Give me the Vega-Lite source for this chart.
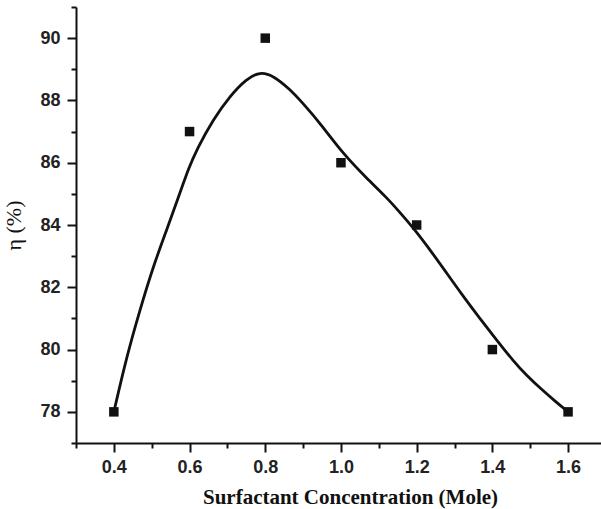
{
  "$schema": "https://vega.github.io/schema/vega-lite/v6.json",
  "autosize": "none",
  "width": 525,
  "height": 436,
  "padding": {"left": 76, "top": 7, "right": 0, "bottom": 66},
  "background": "white",
  "config": {"view": {"stroke": null}},
  "datasets": {
    "pts": [
      {"c": 0.4, "eta": 78},
      {"c": 0.6, "eta": 87},
      {"c": 0.8, "eta": 90},
      {"c": 1.0, "eta": 86},
      {"c": 1.2, "eta": 84},
      {"c": 1.4, "eta": 80},
      {"c": 1.6, "eta": 78}
    ],
    "fit": [
      {"c": 0.4, "eta": 78.0},
      {"c": 0.434, "eta": 79.78},
      {"c": 0.469, "eta": 81.28},
      {"c": 0.504, "eta": 82.67},
      {"c": 0.54, "eta": 83.86},
      {"c": 0.575, "eta": 85.04},
      {"c": 0.597, "eta": 85.8},
      {"c": 0.619, "eta": 86.43},
      {"c": 0.663, "eta": 87.4},
      {"c": 0.707, "eta": 88.15},
      {"c": 0.751, "eta": 88.7},
      {"c": 0.786, "eta": 88.92},
      {"c": 0.821, "eta": 88.8},
      {"c": 0.865, "eta": 88.36},
      {"c": 0.9, "eta": 87.9},
      {"c": 0.945, "eta": 87.27},
      {"c": 1.006, "eta": 86.28},
      {"c": 1.068, "eta": 85.5},
      {"c": 1.121, "eta": 84.88},
      {"c": 1.156, "eta": 84.4},
      {"c": 1.191, "eta": 83.91},
      {"c": 1.235, "eta": 83.21},
      {"c": 1.279, "eta": 82.46},
      {"c": 1.323, "eta": 81.71},
      {"c": 1.367, "eta": 81.0},
      {"c": 1.411, "eta": 80.31},
      {"c": 1.455, "eta": 79.64},
      {"c": 1.491, "eta": 79.16},
      {"c": 1.53, "eta": 78.72},
      {"c": 1.565, "eta": 78.35},
      {"c": 1.6, "eta": 78.0}
    ]
  },
  "encoding": {
    "x": {
      "field": "c", "type": "quantitative",
      "scale": {"domain": [0.3, 1.687], "nice": false, "zero": false},
      "axis": {
        "values": [0.3, 0.4, 0.5, 0.6, 0.7, 0.8, 0.9, 1.0, 1.1, 1.2, 1.3, 1.4, 1.5, 1.6],
        "labelExpr": "round(datum.value*10) % 2 == 0 ? format(datum.value, '.1f') : ''",
        "tickSize": {"condition": {"test": "round(datum.value*10) % 2 == 1", "value": 5}, "value": 9},
        "tickWidth": 2, "tickColor": "#111",
        "domainColor": "#111", "domainWidth": 2,
        "grid": false,
        "labelFont": "Liberation Sans", "labelFontWeight": "bold", "labelFontSize": 18, "labelColor": "#222",
        "labelPadding": 6,
        "labelFlush": false, "labelOverlap": false,
        "title": "Surfactant Concentration (Mole)",
        "titleFont": "Liberation Serif", "titleFontWeight": "bold", "titleFontSize": 21, "titleColor": "#111",
        "titleX": 274,
        "titlePadding": 10
      }
    },
    "y": {
      "field": "eta", "type": "quantitative",
      "scale": {"domain": [77, 91], "nice": false, "zero": false},
      "axis": {
        "values": [77, 78, 79, 80, 81, 82, 83, 84, 85, 86, 87, 88, 89, 90, 91],
        "labelExpr": "datum.value % 2 == 0 ? format(datum.value, 'd') : ''",
        "tickSize": {"condition": {"test": "datum.value % 2 == 1", "value": 5}, "value": 9},
        "tickWidth": 2, "tickColor": "#111",
        "domainColor": "#111", "domainWidth": 2,
        "grid": false,
        "labelFont": "Liberation Sans", "labelFontWeight": "bold", "labelFontSize": 18, "labelColor": "#222",
        "labelPadding": 7,
        "labelFlush": false, "labelOverlap": false,
        "title": "η (%)",
        "titleFont": "Liberation Serif", "titleFontWeight": "normal", "titleFontSize": 22, "titleColor": "#111",
        "titlePadding": 14
      }
    }
  },
  "layer": [
    {
      "data": {"name": "fit"},
      "mark": {"type": "line", "interpolate": "basis", "color": "#111", "strokeWidth": 2.8}
    },
    {
      "data": {"name": "pts"},
      "mark": {"type": "square", "size": 90, "color": "#111", "opacity": 1, "filled": true}
    }
  ]
}
